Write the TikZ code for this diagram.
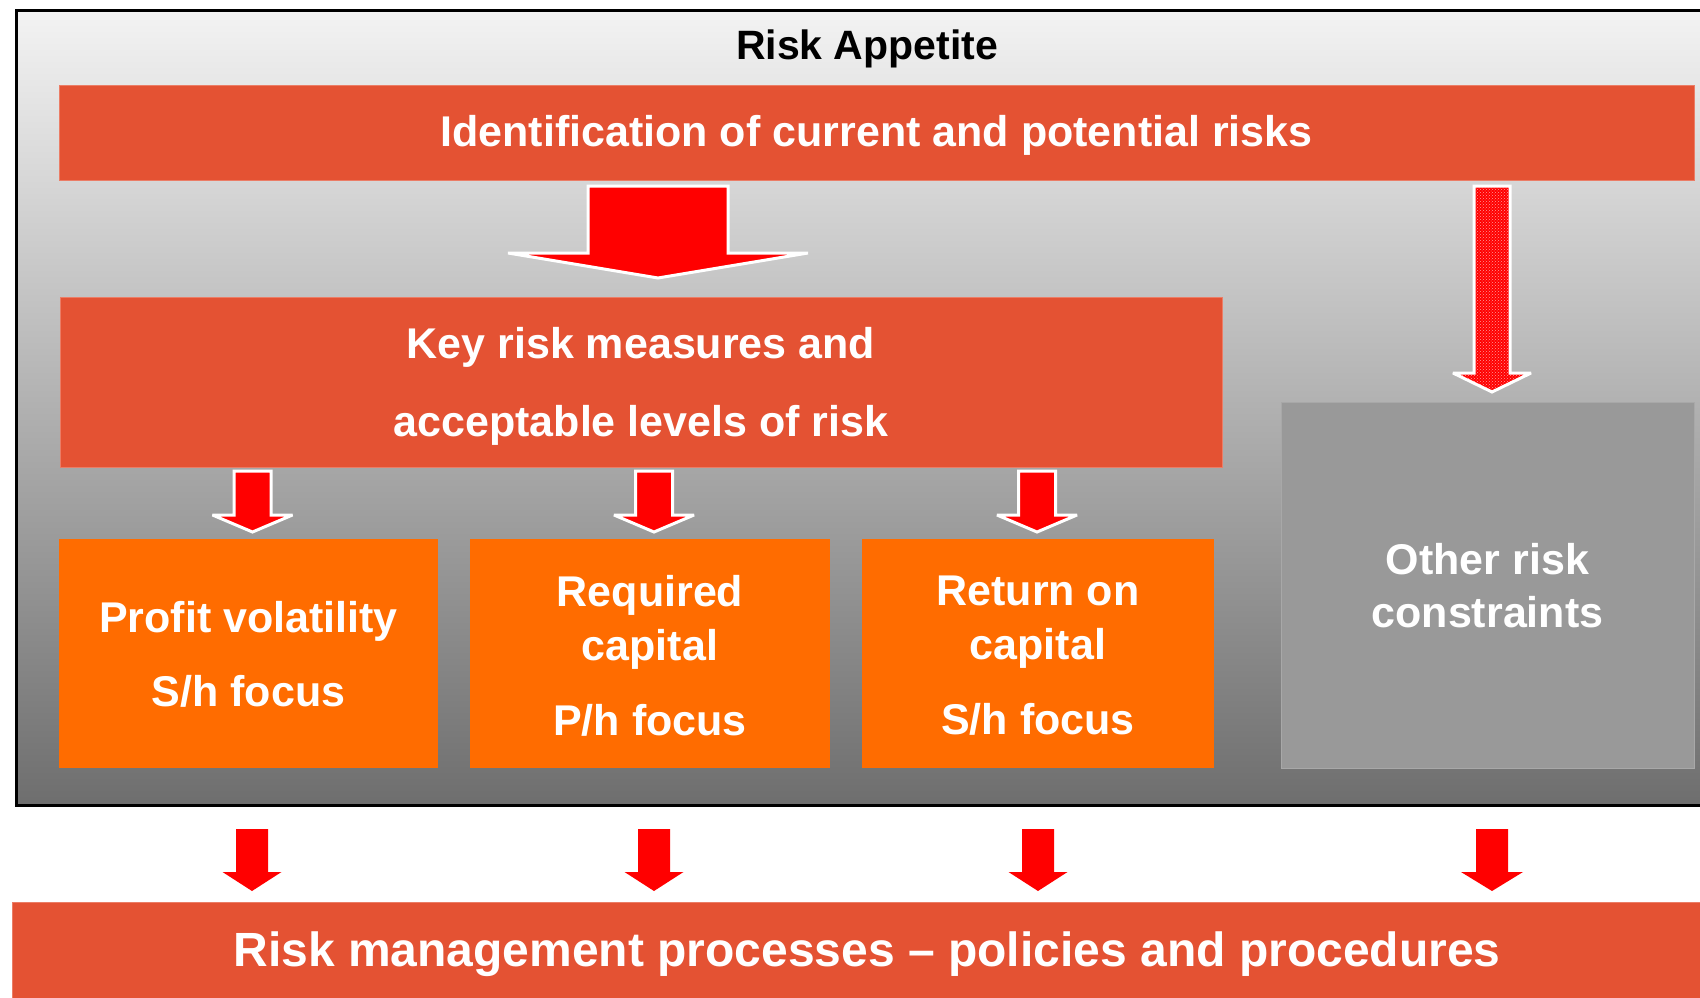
\documentclass[tikz,border=0pt]{standalone}
\usepackage{fontspec}
\setmainfont{Liberation Sans}
\usetikzlibrary{patterns}

\definecolor{barred}{HTML}{E45233}
\definecolor{boxorange}{HTML}{FF6C00}
\definecolor{boxgray}{HTML}{999999}
\definecolor{bgtop}{HTML}{F3F3F3}
\definecolor{bgmid}{HTML}{C0C0C0}
\definecolor{bgbot}{HTML}{6E6E6E}
\definecolor{arrowred}{HTML}{FF0000}
\definecolor{dotpink}{HTML}{FF9A9A}

% block arrow pointing down:
% #1 style, #2 centre x, #3 top y, #4 shaft half width,
% #5 y of the head's shoulders, #6 head half width, #7 tip y
\newcommand\blockdown[7]{%
  \path[#1] ({#2-#4},#3) -- ({#2+#4},#3) -- ({#2+#4},#5) -- ({#2+#6},#5)
    -- (#2,#7) -- ({#2-#6},#5) -- ({#2-#4},#5) -- cycle;}

\begin{document}
\begin{tikzpicture}[x=1pt,y=-1pt,
  txt/.style={inner sep=0pt, outer sep=0pt, align=center, text=white,
    font=\fontsize{43}{54}\selectfont\bfseries},
  plain/.style={inner sep=0pt, outer sep=0pt},
  redbar/.style={plain, fill=barred, draw=barred!75!white, line width=0.8pt},
  orangebox/.style={plain, fill=boxorange, minimum height=229pt},
  graybox/.style={plain, fill=boxgray, draw=boxgray!85!white, line width=0.8pt},
  inarrow/.style={fill=arrowred, draw=white, line width=3pt, miter limit=3},
  outarrow/.style={fill=arrowred},
  dotarrow/.style={draw=white, line width=3pt, miter limit=3,
    preaction={fill=arrowred}, pattern=crosshatch dots, pattern color=dotpink}]

\useasboundingbox (0,0) rectangle (1700,998);
\clip (0,0) rectangle (1700,998);
\fill[white] (0,0) rectangle (1700,998);

% shaded frame of the risk appetite area
\node[draw=black, line width=3pt, inner sep=0pt, minimum width=1704pt,
  minimum height=794pt, top color=bgtop, middle color=bgmid,
  bottom color=bgbot] (frame) at (868,408) {};

\node[txt, text=black, font=\fontsize{41}{50}\selectfont\bfseries]
  (title) at (867,49) {Risk Appetite};

% boxes
\node[redbar, minimum width=1635pt, minimum height=95pt] (ident) at (876.5,132.5) {};
\node[redbar, minimum width=1162pt, minimum height=170pt] (key) at (641,382) {};
\node[orangebox, minimum width=379pt] (profit) at (248.5,653.5) {};
\node[orangebox, minimum width=360pt] (capital) at (650,653.5) {};
\node[orangebox, minimum width=352pt] (return) at (1038,653.5) {};
\node[graybox, minimum width=413pt, minimum height=366pt] (other) at (1487.5,585) {};
\node[redbar, minimum width=1710pt, minimum height=104pt] (process) at (867,954) {};

% box texts
\node[txt] (identtext) at ([yshift=-3pt]ident.center)
  {Identification of current and potential risks};
\node[txt, font=\fontsize{43}{78}\selectfont\bfseries] (keytext)
  at ([yshift=-4pt]key.center) {Key risk measures and\\acceptable levels of risk};
\node[txt] (profittext) at ([yshift=-1pt]profit.center)
  {Profit volatility\\[20pt]S/h focus};
\node[txt] (capitaltext) at ([yshift=-2pt]capital.center)
  {Required\\capital\\[21pt]P/h focus};
\node[txt] (returntext) at ([yshift=-2pt]return.center)
  {Return on\\capital\\[21pt]S/h focus};
\node[txt, font=\fontsize{43}{53}\selectfont\bfseries] (othertext)
  at ([yshift=-1pt]other.center) {Other risk\\constraints};
\node[txt, font=\fontsize{48}{56}\selectfont\bfseries] (processtext)
  at (process.center) {Risk management processes – policies and procedures};

% arrows inside the frame
\blockdown{inarrow}{658}{186}{70}{253}{150}{278}
\blockdown{dotarrow}{1492}{186}{18}{373}{39}{392}
\blockdown{inarrow}{252.5}{471}{18.5}{515}{40}{532}
\blockdown{inarrow}{654}{471}{18.5}{515}{40}{532}
\blockdown{inarrow}{1037}{471}{18.5}{515}{40}{532}

% arrows down to the processes bar
\blockdown{outarrow}{252}{829}{16}{872}{29.5}{891}
\blockdown{outarrow}{654}{829}{16}{872}{29.5}{891}
\blockdown{outarrow}{1038}{829}{16}{872}{29.5}{891}
\blockdown{outarrow}{1492}{829}{16}{872}{31}{891}
\end{tikzpicture}
\end{document}
